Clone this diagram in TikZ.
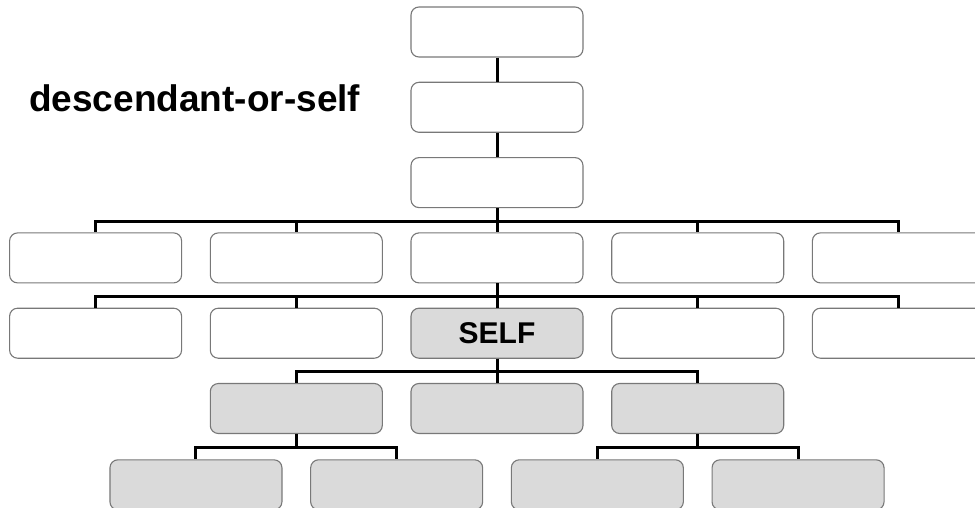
\documentclass[tikz,border=0pt]{standalone}
\usepackage{fontspec}
\setmainfont{Liberation Sans}
\definecolor{boxline}{RGB}{120,120,120}
\definecolor{selfgray}{RGB}{218,218,218}
\tikzset{
  box/.style={draw=boxline,line width=1.1pt,rounded corners=8pt,fill=white,
    minimum width=172pt,minimum height=50pt,inner sep=0pt},
  selfbox/.style={box,fill=selfgray},
  link/.style={line width=3pt,black}
}
\begin{document}
\begin{tikzpicture}[x=1pt,y=-1pt]
      \pgfmathsetmacro{\h}{75.3}
      \pgfmathsetmacro{\w}{200.7}
      \pgfmathsetmacro{\b}{13}
      \useasboundingbox (0,0) rectangle (975,508);

      \node[anchor=base west,inner sep=0pt,font=\bfseries\fontsize{37}{40}\selectfont] (T) at (29,112) {descendant-or-self};

      % ancestors
      \node[box] (A2) at (497,32) {};
      \node[box] (B2) at (497,32 + \h) {};
      \node[box] (C2) at (497,32 + \h * 2) {};

      % row of siblings of the parent
      \node[box] (D0) at (497 - \w * 2,32 + \h * 3) {};
      \node[box] (D1) at (497 - \w,32 + \h * 3) {};
      \node[box] (D2) at (497,32 + \h * 3) {};
      \node[box] (D3) at (497 + \w,32 + \h * 3) {};
      \node[box] (D4) at (497 + \w * 2,32 + \h * 3) {};

      % row with self
      \node[box] (E0) at (497 - \w * 2,32 + \h * 4) {};
      \node[box] (E1) at (497 - \w,32 + \h * 4) {};
      \node[selfbox,font=\bfseries\fontsize{30}{32}\selectfont] (E2) at (497,32 + \h * 4) {SELF};
      \node[box] (E3) at (497 + \w,32 + \h * 4) {};
      \node[box] (E4) at (497 + \w * 2,32 + \h * 4) {};

      % descendants
      \node[selfbox] (F1) at (497 - \w,32 + \h * 5) {};
      \node[selfbox] (F2) at (497,32 + \h * 5) {};
      \node[selfbox] (F3) at (497 + \w,32 + \h * 5) {};

      \node[selfbox] (G0) at (497 - \w * 1.5,33 + \h * 6) {};
      \node[selfbox] (G1) at (497 - \w * .5,33 + \h * 6) {};
      \node[selfbox] (G2) at (497 + \w * .5,33 + \h * 6) {};
      \node[selfbox] (G3) at (497 + \w * 1.5,33 + \h * 6) {};

      \draw[link] (A2) -- (B2);
      \draw[link] (B2) -- (C2);
      \foreach \k in {0,...,4} {
        \draw[link] (C2.south) -- ++(0,\b) -| (D\k.north);
      }
      \foreach \k in {0,...,4} {
        \draw[link] (D2.south) -- ++(0,\b) -| (E\k.north);
      }
      \foreach \k in {1,2,3} {
        \draw[link] (E2.south) -- ++(0,\b) -| (F\k.north);
      }
      \draw[link] (F1.south) -- ++(0,\b) -| (G0.north);
      \draw[link] (F1.south) -- ++(0,\b) -| (G1.north);
      \draw[link] (F3.south) -- ++(0,\b) -| (G2.north);
      \draw[link] (F3.south) -- ++(0,\b) -| (G3.north);
    \end{tikzpicture}
\end{document}
